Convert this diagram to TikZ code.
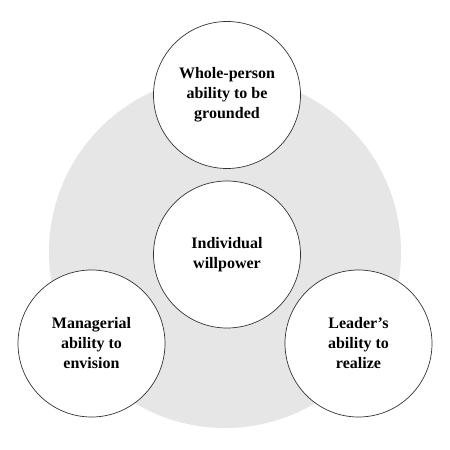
\documentclass[tikz,border=0pt]{standalone}
\usepackage{fontspec}
\setmainfont{Liberation Serif}
\definecolor{ringgrey}{HTML}{E6E6E6}
\begin{document}
\begin{tikzpicture}[x=1pt,y=-1pt,
  bubble/.style={circle,draw=black!80,line width=0.7pt,fill=white,minimum size=147pt,inner sep=0pt,
    align=center,font=\fontsize{16}{20}\selectfont\bfseries}]
\useasboundingbox (0,0) rectangle (450,450);
\node[circle,fill=ringgrey,minimum size=352pt,inner sep=0pt] (ring) at (225,252) {};
\node[bubble] (top) at (227,95) {Whole-person\\ability to be\\grounded};
\node[bubble] (mid) at (227,254.5) {Individual\\willpower};
\node[bubble] (left) at (91.5,343.5) {Managerial\\ability to\\envision};
\node[bubble] (right) at (358.5,343.5) {Leader’s\\ability to\\realize};
\end{tikzpicture}
\end{document}
